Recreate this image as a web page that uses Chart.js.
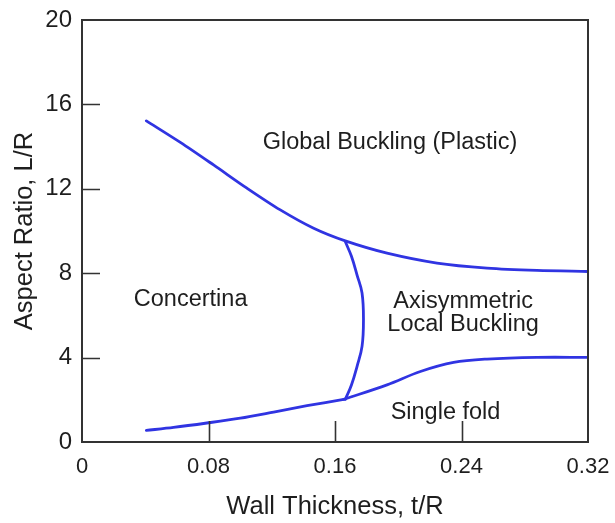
<!DOCTYPE html>
<html>
<head>
<meta charset="utf-8">
<script src="https://cdn.jsdelivr.net/npm/chart.js@4/dist/chart.umd.min.js"></script>
<style>
html,body{margin:0;padding:0;background:#fff;}
canvas{display:block;}
</style>
</head>
<body>
<canvas id="c" width="615" height="523"></canvas>
<script>
// ---- data ----
const upperX = [0.0407, 0.0622, 0.0832, 0.1043, 0.1254, 0.1465, 0.1665, 0.1929, 0.2245, 0.2561, 0.2877, 0.32];
const upperY = [15.22, 14.20, 13.13, 12.03, 11.0, 10.13, 9.53, 8.95, 8.48, 8.24, 8.13, 8.08];

const midX = [0.1665, 0.1704, 0.1740, 0.1771, 0.1780, 0.1771, 0.1740, 0.1704, 0.1665];
const midY = [9.50, 8.80, 7.90, 7.06, 5.79, 4.53, 3.60, 2.70, 2.02];

const lowLeftX = [0.0407, 0.0579, 0.0790, 0.1001, 0.1212, 0.1423, 0.1655];
const lowLeftY = [0.55, 0.69, 0.90, 1.13, 1.42, 1.72, 2.02];

const lowRightX = [0.1655, 0.1929, 0.2140, 0.2350, 0.2561, 0.2877, 0.32];
const lowRightY = [2.02, 2.71, 3.34, 3.77, 3.93, 4.01, 4.01];

const xTickValues = [0, 0.08, 0.16, 0.24, 0.32];
const xTickLabels = ['0', '0.08', '0.16', '0.24', '0.32'];
const yTickValues = [0, 4, 8, 12, 16, 20];
const yTickLabels = ['0', '4', '8', '12', '16', '20'];

const regionLabels = ['Global Buckling (Plastic)', 'Concertina', 'Axisymmetric', 'Local Buckling', 'Single fold'];
const regionX = [0.1948, 0.0687, 0.2410, 0.2410, 0.2299];
const regionY = [14.19, 6.75, 6.67, 5.57, 1.39];

const xTitle = 'Wall Thickness, t/R';
const yTitle = 'Aspect Ratio, L/R';

// ---- helpers ----
const zip = (xs, ys) => xs.map((x, i) => ({x: x, y: ys[i]}));
const LINE = '#3034e2';
const TEXT = '#1e1e1e';
const FONT = '"Liberation Sans", Arial, sans-serif';

function lineSet(xs, ys, t) {
  return {
    data: zip(xs, ys),
    showLine: true,
    borderColor: LINE,
    borderWidth: 2.8,
    borderCapStyle: 'round',
    borderJoinStyle: 'round',
    pointRadius: 0,
    fill: false,
    tension: t
  };
}

const framePlugin = {
  id: 'frame',
  afterDatasetsDraw(chart) {
    const {ctx, chartArea: a, scales: {x, y}} = chart;
    ctx.save();
    ctx.strokeStyle = '#333';
    ctx.lineWidth = 2;
    ctx.strokeRect(a.left, a.top, a.right - a.left, a.bottom - a.top);
    ctx.lineWidth = 1.6;
    ctx.beginPath();
    xTickValues.forEach(v => {
      if (v === x.min || v === x.max) return;
      const px = Math.round(x.getPixelForValue(v)) + 0.5;
      ctx.moveTo(px, a.bottom);
      ctx.lineTo(px, a.bottom - 21);
    });
    yTickValues.forEach(v => {
      if (v === y.min || v === y.max) return;
      const py = Math.round(y.getPixelForValue(v)) + 0.5;
      ctx.moveTo(a.left, py);
      ctx.lineTo(a.left + 18, py);
    });
    ctx.stroke();
    // region labels
    ctx.fillStyle = TEXT;
    ctx.font = '23.5px ' + FONT;
    ctx.textAlign = 'center';
    ctx.textBaseline = 'middle';
    regionLabels.forEach((t, i) => {
      ctx.fillText(t, x.getPixelForValue(regionX[i]), y.getPixelForValue(regionY[i]));
    });
    ctx.restore();
  }
};

new Chart(document.getElementById('c'), {
  type: 'scatter',
  data: {
    datasets: [
      lineSet(upperX, upperY, 0.3),
      lineSet(midX, midY, 0.4),
      lineSet(lowLeftX, lowLeftY, 0.3),
      lineSet(lowRightX, lowRightY, 0.35)
    ]
  },
  options: {
    responsive: false,
    animation: false,
    devicePixelRatio: 1,
    layout: {padding: {top: 20, right: 27, left: 0, bottom: 0}},
    plugins: {legend: {display: false}, tooltip: {enabled: false}},
    scales: {
      x: {
        type: 'linear',
        min: 0, max: 0.32,
        afterBuildTicks: s => { s.ticks = xTickValues.map(v => ({value: v})); },
        afterFit: s => { s.height = 81; s.paddingLeft = 0; s.paddingRight = 0; },
        grid: {display: false, drawTicks: false},
        border: {display: false},
        ticks: {
          padding: 12,
          color: TEXT,
          font: {family: FONT, size: 22},
          callback: (v, i) => xTickLabels[i]
        },
        title: {
          display: true,
          text: xTitle,
          color: TEXT,
          font: {family: FONT, size: 25.5},
          padding: {top: 0, bottom: 1}
        }
      },
      y: {
        type: 'linear',
        min: 0, max: 20,
        afterBuildTicks: s => { s.ticks = yTickValues.map(v => ({value: v})); },
        afterFit: s => { s.width = 82; s.paddingTop = 0; s.paddingBottom = 0; },
        grid: {display: false, drawTicks: false},
        border: {display: false},
        ticks: {
          padding: 10,
          color: TEXT,
          font: {family: FONT, size: 24},
          callback: (v, i) => yTickLabels[i]
        },
        title: {
          display: true,
          text: yTitle,
          color: TEXT,
          font: {family: FONT, size: 25.5},
          padding: {top: 10, bottom: 0}
        }
      }
    }
  },
  plugins: [framePlugin]
});
</script>
</body>
</html>
